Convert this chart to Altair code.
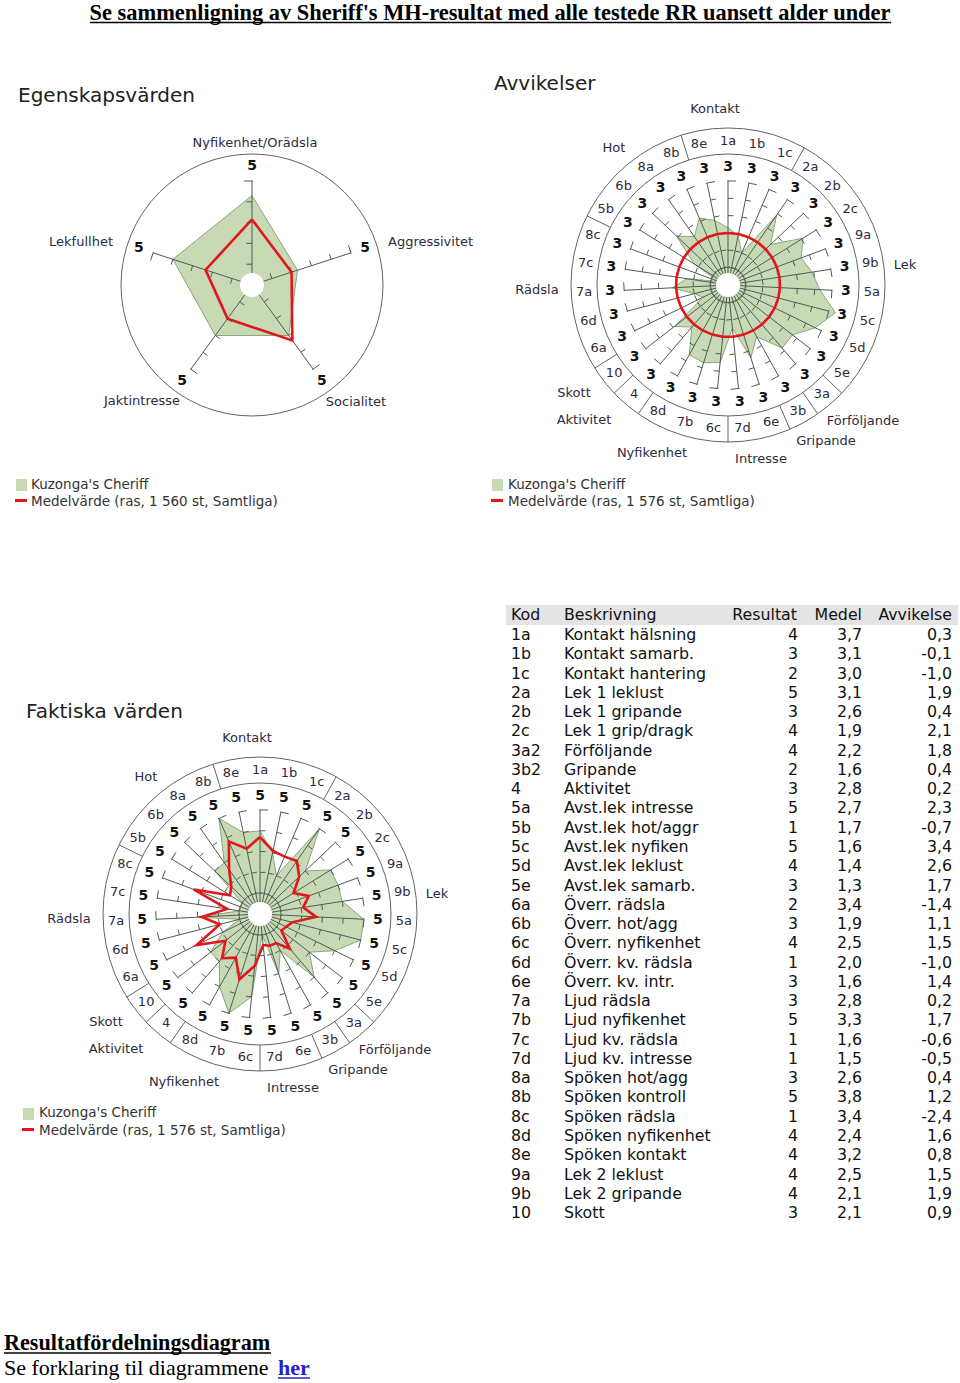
import math
import pandas as pd
import altair as alt

# ---------------- data ----------------
egen_axes = ["Nyfikenhet/Orädsla", "Aggressivitet", "Socialitet", "Jaktintresse", "Lekfullhet"]
egen_dog = [4.3, 2.3, 3.0, 3.0, 4.0]
egen_mean = [3.15, 2.0, 3.3, 2.0, 2.35]

kod = ["1a", "1b", "1c", "2a", "2b", "2c", "3a2", "3b2", "4", "5a", "5b", "5c", "5d", "5e",
       "6a", "6b", "6c", "6d", "6e", "7a", "7b", "7c", "7d", "8a", "8b", "8c", "8d", "8e",
       "9a", "9b", "10"]
beskrivning = ["Kontakt hälsning", "Kontakt samarb.", "Kontakt hantering", "Lek 1 leklust",
               "Lek 1 gripande", "Lek 1 grip/dragk", "Förföljande", "Gripande", "Aktivitet",
               "Avst.lek intresse", "Avst.lek hot/aggr", "Avst.lek nyfiken", "Avst.lek leklust",
               "Avst.lek samarb.", "Överr. rädsla", "Överr. hot/agg", "Överr. nyfikenhet",
               "Överr. kv. rädsla", "Överr. kv. intr.", "Ljud rädsla", "Ljud nyfikenhet",
               "Ljud kv. rädsla", "Ljud kv. intresse", "Spöken hot/agg", "Spöken kontroll",
               "Spöken rädsla", "Spöken nyfikenhet", "Spöken kontakt", "Lek 2 leklust",
               "Lek 2 gripande", "Skott"]
resultat = [4, 3, 2, 5, 3, 4, 4, 2, 3, 5, 1, 5, 4, 3, 2, 3, 4, 1, 3, 3, 5, 1, 1, 3, 5, 1, 4, 4, 4, 4, 3]
medel = [3.7, 3.1, 3.0, 3.1, 2.6, 1.9, 2.2, 1.6, 2.8, 2.7, 1.7, 1.6, 1.4, 1.3, 3.4, 1.9, 2.5,
         2.0, 1.6, 2.8, 3.3, 1.6, 1.5, 2.6, 3.8, 3.4, 2.4, 3.2, 2.5, 2.1, 2.1]
avvikelse = [0.3, -0.1, -1.0, 1.9, 0.4, 2.1, 1.8, 0.4, 0.2, 2.3, -0.7, 3.4, 2.6, 1.7, -1.4, 1.1,
             1.5, -1.0, 1.4, 0.2, 1.7, -0.6, -0.5, 0.4, 1.2, -2.4, 1.6, 0.8, 1.5, 1.9, 0.9]

radar_codes = ["1a", "1b", "1c", "2a", "2b", "2c", "9a", "9b", "5a", "5c", "5d", "5e", "3a", "3b",
               "6e", "7d", "6c", "7b", "8d", "4", "10", "6a", "6d", "7a", "7c", "8c", "5b", "6b",
               "8a", "8b", "8e"]
group_names = ["Kontakt", "Lek", "Förföljande", "Gripande", "Intresse", "Nyfikenhet",
               "Aktivitet", "Skott", "Rädsla", "Hot"]
group_members = [["8e", "1a", "1b", "1c"],
                 ["2a", "2b", "2c", "9a", "9b", "5a", "5c", "5d", "5e"],
                 ["3a"], ["3b"], ["6e", "7d"], ["6c", "7b", "8d"], ["4"], ["10"],
                 ["6a", "6d", "7a", "7c", "8c"], ["5b", "6b", "8a", "8b"]]

title_top = "Se sammenligning av Sheriff's MH-resultat med alle testede RR uansett alder under"
legend_dog = "Kuzonga's Cheriff"
legend_mean_1 = "Medelvärde (ras, 1 560 st, Samtliga)"
legend_mean_2 = "Medelvärde (ras, 1 576 st, Samtliga)"

# ---------------- layout / style ----------------
W, H = 960, 1383
SANS = "DejaVu Sans"
SERIF = "Liberation Serif"
GREEN_FILL = "#c8dab5"
GREEN_LINE = "#8aa67a"
RED = "#e3161c"
AXIS_C = "#4f5b53"
CIRC_C = "#5f6666"
LABEL_C = "#2e2b3c"

C1 = (252, 285)
C2 = (728, 285)
C3 = (260, 914)
HOLE = 12
R_AX = 104
R_IN = 131
R_OUT = 157

# group label offsets relative to the radar centre (dx, dy)
group_label_off = {"Kontakt": (-13, -176), "Lek": (177, -20), "Förföljande": (135, 136),
                   "Gripande": (98, 156), "Intresse": (33, 174), "Nyfikenhet": (-76, 168),
                   "Aktivitet": (-144, 135), "Skott": (-154, 108), "Rädsla": (-191, 5),
                   "Hot": (-114, -137)}
egen_label_off = [(3, -142, "center"), (136, -43, "left"), (104, 117, "center"),
                  (-110, 116, "center"), (-139, -43, "right")]

xs = alt.Scale(domain=[0, W], nice=False, zero=False)
ys = alt.Scale(domain=[0, H], nice=False, zero=False, reverse=True)


def X(f):
    return alt.X(f, type="quantitative", scale=xs, axis=None)


def Y(f):
    return alt.Y(f, type="quantitative", scale=ys, axis=None)


def pos(c, ang, r):
    a = math.radians(ang)
    return c[0] + r * math.sin(a), c[1] - r * math.cos(a)


def poly_df(c, angles, radii):
    rows = []
    pts = list(zip(angles, radii)) + [(angles[0], radii[0])]
    for i, (a, r) in enumerate(pts):
        x, y = pos(c, a, r)
        rows.append({"x": x, "y": y, "o": i})
    return pd.DataFrame(rows)


def fmt(v):
    return f"{v:.1f}".replace(".", ",")


segs = []


def seg(p1, p2, color, w=1.0):
    segs.append({"x": p1[0], "y": p1[1], "x2": p2[0], "y2": p2[1], "c": color, "w": w})


def spoke(c, ang, tick_rs, side):
    # side = +1 clockwise side, -1 counter-clockwise side
    seg(pos(c, ang, HOLE), pos(c, ang, R_AX), AXIS_C, 1.0)
    a = math.radians(ang)
    ox, oy = side * math.cos(a), side * math.sin(a)
    for r in tick_rs:
        p = pos(c, ang, r)
        seg(p, (p[0] + 5.5 * ox, p[1] + 5.5 * oy), AXIS_C, 1.0)
    p = pos(c, ang, R_AX)
    seg((p[0] - 1 * ox, p[1] - 1 * oy), (p[0] + 8 * ox, p[1] + 8 * oy), AXIS_C, 1.0)


texts = {}


def add_text(key, x, y, t):
    texts.setdefault(key, []).append({"x": x, "y": y, "t": t})


# lookups
def table_key(k):
    return k[:2] if (len(k) == 3 and k.endswith("2")) else k


idx = {table_key(k): i for i, k in enumerate(kod)}
N = len(radar_codes)
STEP = 360.0 / N
r_angles = [i * STEP for i in range(N)]
grp_of = {m: g for g, ms in zip(group_names, group_members) for m in ms}

# ---------- chart 1 : Egenskapsvärden ----------
U1 = R_AX / 5.0
e_angles = [i * 72.0 for i in range(len(egen_axes))]
poly1_dog = poly_df(C1, e_angles, [v * U1 for v in egen_dog])
poly1_mean = poly_df(C1, e_angles, [v * U1 for v in egen_mean])
for a in e_angles:
    spoke(C1, a, [U1 * k for k in range(1, 5)], -1)
    x, y = pos(C1, a, 119)
    add_text("max", x, y, "5")
for name, (dx, dy, al) in zip(egen_axes, egen_label_off):
    add_text("lab_" + al, C1[0] + dx, C1[1] + dy, name)

# ---------- chart 2 : Avvikelser ----------
U2 = R_AX / 6.0
dev = [avvikelse[idx[k]] for k in radar_codes]
dev0 = [medel[idx[k]] - medel[idx[k]] for k in radar_codes]
poly2_dog = poly_df(C2, r_angles, [R_AX / 2 + v * U2 for v in dev])
poly2_mean = poly_df(C2, r_angles, [R_AX / 2 + v * U2 for v in dev0])

# ---------- chart 3 : Faktiska värden ----------
U3 = R_AX / 5.0
res = [resultat[idx[k]] for k in radar_codes]
mn = [medel[idx[k]] for k in radar_codes]
poly3_dog = poly_df(C3, r_angles, [v * U3 for v in res])
poly3_mean = poly_df(C3, r_angles, [v * U3 for v in mn])

for c, tick_rs, mx in [(C2, [U2 * k for k in range(1, 6)], "3"),
                       (C3, [U3 * k for k in range(1, 5)], "5")]:
    for i, a in enumerate(r_angles):
        spoke(c, a, tick_rs, +1)
        x, y = pos(c, a, 118)
        add_text("max", x, y, mx)
        x, y = pos(c, a, 144)
        add_text("code", x, y, radar_codes[i])
        if grp_of[radar_codes[i]] != grp_of[radar_codes[(i + 1) % N]]:
            b = a + STEP / 2
            seg(pos(c, b, R_IN), pos(c, b, R_OUT), CIRC_C, 1.0)
    for g in group_names:
        dx, dy = group_label_off[g]
        add_text("lab_center", c[0] + dx, c[1] + dy, g)

circles = pd.DataFrame([
    {"x": C1[0], "y": C1[1], "s": (2 * R_IN) ** 2},
    {"x": C2[0], "y": C2[1], "s": (2 * R_IN) ** 2},
    {"x": C2[0], "y": C2[1], "s": (2 * R_OUT) ** 2},
    {"x": C3[0], "y": C3[1], "s": (2 * R_IN) ** 2},
    {"x": C3[0], "y": C3[1], "s": (2 * R_OUT) ** 2},
])
holes = pd.DataFrame([{"x": c[0], "y": c[1], "s": (2 * HOLE) ** 2} for c in (C1, C2, C3)])

# titles & legends
add_text("title", 18, 96, "Egenskapsvärden")
add_text("title", 494, 84, "Avvikelser")
add_text("title", 26, 712, "Faktiska värden")
legends = [(16, 479, 31, 485, 502, legend_mean_1), (492, 479, 508, 485, 502, legend_mean_2),
           (23, 1108, 39, 1113, 1131, legend_mean_2)]
leg_sq, leg_ln = [], []
for sx, sy, tx, y1, y2, lab in legends:
    leg_sq.append({"x": sx, "y": sy, "x2": sx + 11, "y2": sy + 12})
    leg_ln.append({"x": sx - 1, "y": y2 - 1.5, "x2": sx + 11, "y2": y2 - 1.5})
    add_text("legend", tx, y1, legend_dog)
    add_text("legend", tx, y2, lab)

# table
T_Y0, T_DY = 635, 19.27
add_text("tab_l", 511, 615, "Kod")
add_text("tab_l", 564, 615, "Beskrivning")
add_text("tab_r", 797, 615, "Resultat")
add_text("tab_r", 862, 615, "Medel")
add_text("tab_r", 952, 615, "Avvikelse")
for i in range(len(kod)):
    y = T_Y0 + i * T_DY
    add_text("tab_l", 511, y, kod[i])
    add_text("tab_l", 564, y, beskrivning[i])
    add_text("tab_r", 798, y, str(resultat[i]))
    add_text("tab_r", 862, y, fmt(medel[i]))
    add_text("tab_r", 952, y, fmt(avvikelse[i]))

# ---------------- build layers ----------------
layers = []
layers.append(alt.Chart(circles).mark_point(shape="circle", filled=False, opacity=1,
                                            stroke=CIRC_C, strokeWidth=1).encode(
    x=X("x"), y=Y("y"), size=alt.Size("s:Q", scale=None)))
for df in (poly1_dog, poly2_dog, poly3_dog):
    layers.append(alt.Chart(df).mark_line(fill=GREEN_FILL, stroke=GREEN_LINE, strokeWidth=1).encode(
        x=X("x"), y=Y("y"), order="o:Q"))
segdf = pd.DataFrame(segs)
layers.append(alt.Chart(segdf).mark_rule().encode(
    x=X("x"), y=Y("y"), x2="x2:Q", y2="y2:Q",
    color=alt.Color("c:N", scale=None), strokeWidth=alt.StrokeWidth("w:Q", scale=None)))
for df in (poly1_mean, poly2_mean, poly3_mean):
    layers.append(alt.Chart(df).mark_line(color=RED, strokeWidth=2.6).encode(
        x=X("x"), y=Y("y"), order="o:Q"))
layers.append(alt.Chart(holes).mark_point(shape="circle", filled=True, opacity=1,
                                          color="white").encode(
    x=X("x"), y=Y("y"), size=alt.Size("s:Q", scale=None)))

# table header band
layers.append(alt.Chart(pd.DataFrame([{"x": 506, "y": 605, "x2": 958, "y2": 625}])).mark_rect(
    color="#e4e4e4").encode(x=X("x"), y=Y("y"), x2="x2:Q", y2="y2:Q"))
# legend marks
layers.append(alt.Chart(pd.DataFrame(leg_sq)).mark_rect(color=GREEN_FILL).encode(
    x=X("x"), y=Y("y"), x2="x2:Q", y2="y2:Q"))
layers.append(alt.Chart(pd.DataFrame(leg_ln)).mark_rule(color=RED, strokeWidth=3).encode(
    x=X("x"), y=Y("y"), x2="x2:Q", y2="y2:Q"))

text_styles = {
    "max": dict(align="center", font=SANS, fontSize=14, fontWeight="bold", color="#111"),
    "code": dict(align="center", font=SANS, fontSize=13, color=LABEL_C),
    "lab_center": dict(align="center", font=SANS, fontSize=13, color=LABEL_C),
    "lab_left": dict(align="left", font=SANS, fontSize=13, color=LABEL_C),
    "lab_right": dict(align="right", font=SANS, fontSize=13, color=LABEL_C),
    "title": dict(align="left", font=SANS, fontSize=20, color="#222"),
    "legend": dict(align="left", font=SANS, fontSize=13.5, color="#333"),
    "tab_l": dict(align="left", font=SANS, fontSize=15.8, color="#111"),
    "tab_r": dict(align="right", font=SANS, fontSize=15.8, color="#111"),
}
for key, rows in texts.items():
    layers.append(alt.Chart(pd.DataFrame(rows)).mark_text(baseline="middle", **text_styles[key]).encode(
        x=X("x"), y=Y("y"), text="t:N"))

# page texts (HTML-like headings)
layers.append(alt.Chart(pd.DataFrame([{"x": 490, "y": 20, "t": title_top}])).mark_text(
    align="center", baseline="alphabetic", font=SERIF, fontSize=22.4, fontWeight="bold",
    color="#000").encode(x=X("x"), y=Y("y"), text="t:N"))
layers.append(alt.Chart(pd.DataFrame([{"x": 4, "y": 1343, "t": "Resultatfördelningsdiagram"}])).mark_text(
    align="left", baseline="middle", font=SERIF, fontSize=22.2, fontWeight="bold", color="#000").encode(
    x=X("x"), y=Y("y"), text="t:N"))
layers.append(alt.Chart(pd.DataFrame([{"x": 4, "y": 1368, "t": "Se forklaring til diagrammene"}])).mark_text(
    align="left", baseline="middle", font=SERIF, fontSize=22, color="#000").encode(
    x=X("x"), y=Y("y"), text="t:N"))
layers.append(alt.Chart(pd.DataFrame([{"x": 278, "y": 1368, "t": "her"}])).mark_text(
    align="left", baseline="middle", font=SERIF, fontSize=22, fontWeight="bold", color="#2323c8").encode(
    x=X("x"), y=Y("y"), text="t:N"))
unders = pd.DataFrame([
    {"x": 90, "y": 22.5, "x2": 891, "y2": 22.5, "c": "#000"},
    {"x": 4, "y": 1353, "x2": 271, "y2": 1353, "c": "#000"},
    {"x": 278, "y": 1378, "x2": 310, "y2": 1378, "c": "#2323c8"},
])
layers.append(alt.Chart(unders).mark_rule(strokeWidth=1.5).encode(
    x=X("x"), y=Y("y"), x2="x2:Q", y2="y2:Q", color=alt.Color("c:N", scale=None)))

chart = alt.layer(*layers).properties(
    width=W, height=H, padding=0, autosize=alt.AutoSizeParams(type="none"), background="white"
).configure_view(stroke=None)

chart.save("out.html", embed_options={"renderer": "svg", "actions": False})
